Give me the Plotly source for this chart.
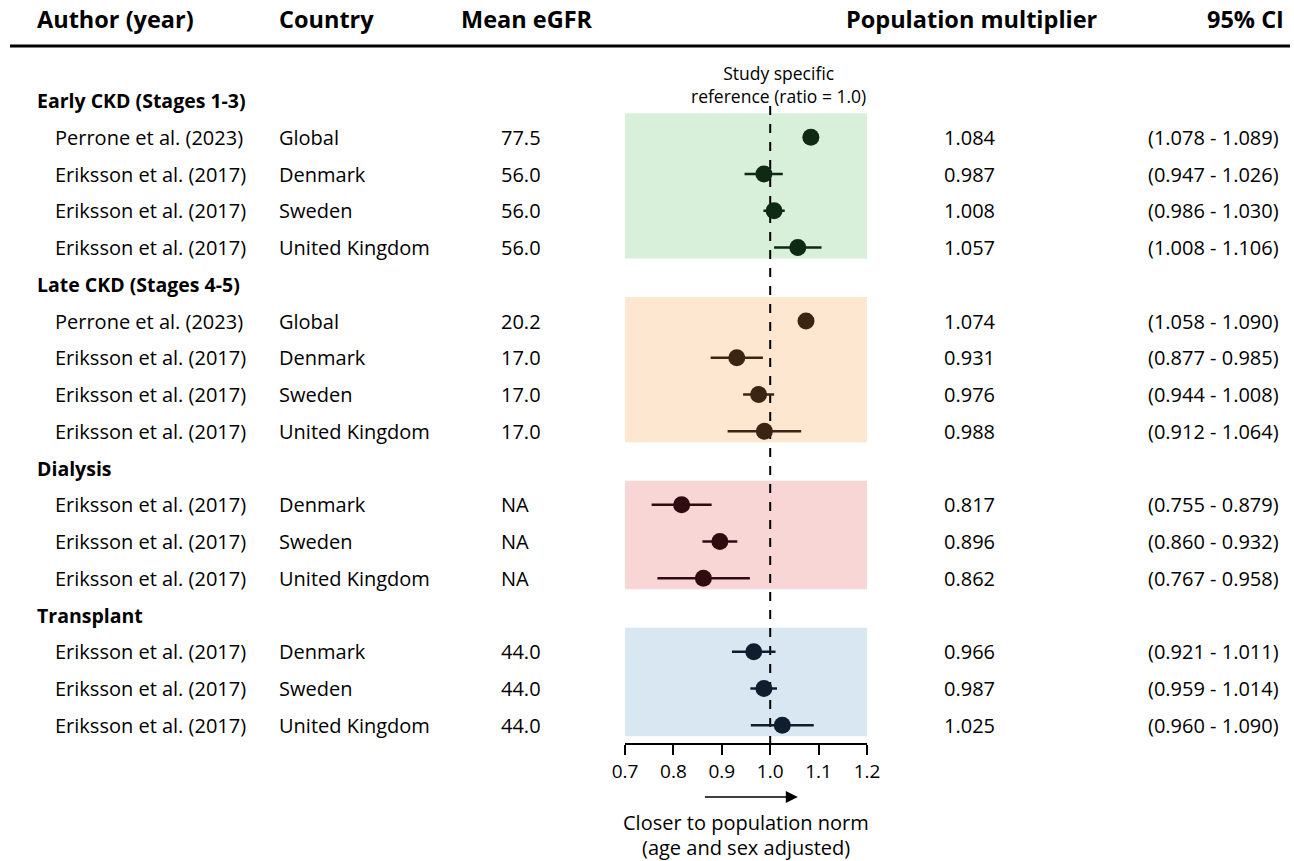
import plotly.graph_objects as go

# ---- data ---------------------------------------------------------------
group_names = ["Early CKD (Stages 1-3)", "Late CKD (Stages 4-5)", "Dialysis", "Transplant"]

authors = [
    ["Perrone et al. (2023)", "Eriksson et al. (2017)", "Eriksson et al. (2017)", "Eriksson et al. (2017)"],
    ["Perrone et al. (2023)", "Eriksson et al. (2017)", "Eriksson et al. (2017)", "Eriksson et al. (2017)"],
    ["Eriksson et al. (2017)", "Eriksson et al. (2017)", "Eriksson et al. (2017)"],
    ["Eriksson et al. (2017)", "Eriksson et al. (2017)", "Eriksson et al. (2017)"],
]
countries = [
    ["Global", "Denmark", "Sweden", "United Kingdom"],
    ["Global", "Denmark", "Sweden", "United Kingdom"],
    ["Denmark", "Sweden", "United Kingdom"],
    ["Denmark", "Sweden", "United Kingdom"],
]
mean_egfr = [
    [77.5, 56.0, 56.0, 56.0],
    [20.2, 17.0, 17.0, 17.0],
    [None, None, None],
    [44.0, 44.0, 44.0],
]
multiplier = [
    [1.084, 0.987, 1.008, 1.057],
    [1.074, 0.931, 0.976, 0.988],
    [0.817, 0.896, 0.862],
    [0.966, 0.987, 1.025],
]
ci_low = [
    [1.078, 0.947, 0.986, 1.008],
    [1.058, 0.877, 0.944, 0.912],
    [0.755, 0.860, 0.767],
    [0.921, 0.959, 0.960],
]
ci_high = [
    [1.089, 1.026, 1.030, 1.106],
    [1.090, 0.985, 1.008, 1.064],
    [0.879, 0.932, 0.958],
    [1.011, 1.014, 1.090],
]
x_ticks = [0.7, 0.8, 0.9, 1.0, 1.1, 1.2]
x_tick_labels = ["0.7", "0.8", "0.9", "1.0", "1.1", "1.2"]

# ---- styling ------------------------------------------------------------
W, H = 1294, 861
FONT = "Open Sans"
box_colors = ["#d8efd9", "#fde7d1", "#f8d6d6", "#d9e7f3"]
dot_colors = ["#0e2a14", "#3a2412", "#2e0c10", "#0f1e2e"]

ROW0_PX = 100.5      # pixel of the first group header
ROW_PX = 36.75       # pixel height of one row
y_top = -ROW0_PX / ROW_PX
y_bot = (H - ROW0_PX) / ROW_PX


def px2row(p):
    return (p - ROW0_PX) / ROW_PX


def px(xp):
    return xp / W


fig = go.Figure()
annotations = []
shapes = []

# column headers and rule
header_font = dict(family=FONT, size=23.5, color="black")
for text, xp, anchor in [
    ("<b>Author (year)</b>", 35, "left"),
    ("<b>Country</b>", 277, "left"),
    ("<b>Mean eGFR</b>", 459, "left"),
    ("<b>Population multiplier</b>", 844, "left"),
    ("<b>95% CI</b>", 1286, "right"),
]:
    annotations.append(dict(text=text, x=px(xp), xref="paper", y=px2row(19), yref="y",
                            xanchor=anchor, yanchor="middle", showarrow=False, font=header_font))
shapes.append(dict(type="line", xref="paper", yref="y", x0=px(10), x1=px(1290),
                   y0=px2row(46), y1=px2row(46), line=dict(color="black", width=3)))

row_font = dict(family=FONT, size=20, color="black")
slot = 0
for g, name in enumerate(group_names):
    annotations.append(dict(text=f"<b>{name}</b>", x=px(35), xref="paper", y=slot, yref="y",
                            xanchor="left", yanchor="middle", showarrow=False,
                            font=dict(family=FONT, size=19.5, color="black")))
    n = len(authors[g])
    rows = [slot + 1 + i for i in range(n)]
    shapes.append(dict(type="rect", xref="x", yref="y", x0=0.7, x1=1.2,
                       y0=slot + 0.35, y1=rows[-1] + 0.3, fillcolor=box_colors[g],
                       line=dict(width=0), layer="below"))
    for i, r in enumerate(rows):
        eg = mean_egfr[g][i]
        cells = [
            (authors[g][i], 53),
            (countries[g][i], 277),
            ("NA" if eg is None else f"{eg:.1f}", 499),
            (f"{multiplier[g][i]:.3f}", 942),
            (f"({ci_low[g][i]:.3f} - {ci_high[g][i]:.3f})", 1146),
        ]
        for text, xp in cells:
            annotations.append(dict(text=text, x=px(xp), xref="paper", y=r, yref="y",
                                    xanchor="left", yanchor="middle", showarrow=False,
                                    font=row_font))
    fig.add_trace(go.Scatter(
        x=multiplier[g], y=rows, mode="markers",
        marker=dict(size=17, color=dot_colors[g]),
        error_x=dict(type="data", symmetric=False,
                     array=[h - m for h, m in zip(ci_high[g], multiplier[g])],
                     arrayminus=[m - l for m, l in zip(multiplier[g], ci_low[g])],
                     color=dot_colors[g], thickness=2.5, width=0),
        showlegend=False, hoverinfo="skip",
    ))
    slot = rows[-1] + 1

# reference line at ratio = 1.0
AXIS_PX = 744
shapes.append(dict(type="line", xref="x", yref="y", x0=1.0, x1=1.0,
                   y0=px2row(106), y1=px2row(AXIS_PX), line=dict(color="black", width=2, dash="dash"),
                   layer="below"))
annotations.append(dict(text="Study specific<br>reference (ratio = 1.0)", x=px(779), xref="paper",
                        y=px2row(84), yref="y", xanchor="center", yanchor="middle", showarrow=False,
                        font=dict(family=FONT, size=17.5, color="black")))

# direction arrow and axis caption
annotations.append(dict(x=1.057, y=px2row(797), xref="x", yref="y", ax=0.862, ay=px2row(797),
                        axref="x", ayref="y", text="", showarrow=True, arrowhead=2, arrowsize=1.6,
                        arrowwidth=1.5, arrowcolor="black"))
annotations.append(dict(text="Closer to population norm", x=px(746), xref="paper", y=px2row(822),
                        yref="y", xanchor="center", yanchor="middle", showarrow=False,
                        font=dict(family=FONT, size=20, color="black")))
annotations.append(dict(text="(age and sex adjusted)", x=px(746), xref="paper", y=px2row(847),
                        yref="y", xanchor="center", yanchor="middle", showarrow=False,
                        font=dict(family=FONT, size=20, color="black")))

fig.update_layout(
    width=W, height=H, margin=dict(l=0, r=0, t=0, b=0, autoexpand=False),
    paper_bgcolor="white", plot_bgcolor="white",
    annotations=annotations, shapes=shapes,
    xaxis=dict(domain=[px(625), px(867)], range=[0.7, 1.2], anchor="free",
               position=1 - AXIS_PX / H, tickvals=x_ticks, ticktext=x_tick_labels,
               showline=True, linecolor="black", linewidth=2, ticks="outside", ticklen=10,
               tickwidth=2, tickcolor="black", showgrid=False, zeroline=False,
               tickfont=dict(family=FONT, size=19, color="black")),
    yaxis=dict(range=[y_bot, y_top], visible=False, showgrid=False, zeroline=False),
)

fig.write_html("out.html")
